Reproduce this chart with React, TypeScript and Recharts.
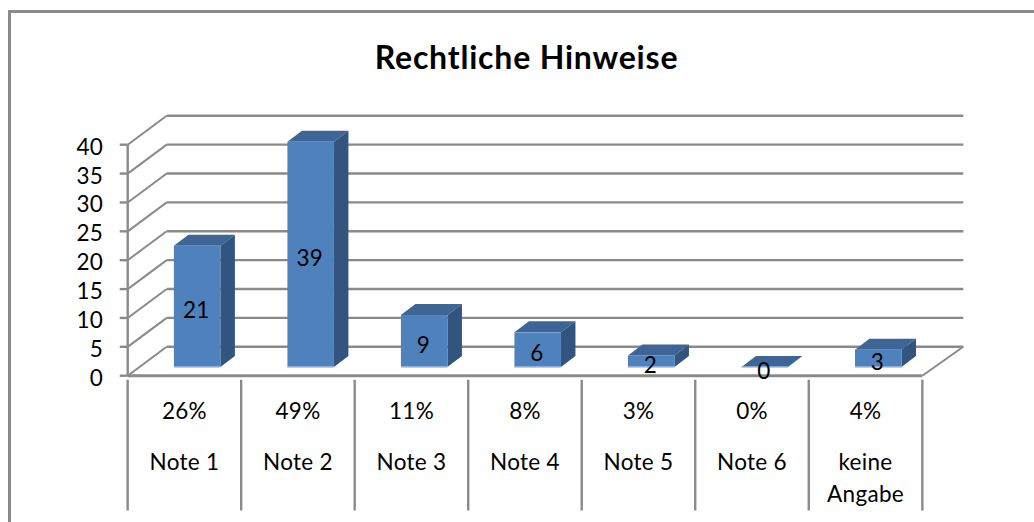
import { BarChart, Bar, XAxis, YAxis, CartesianGrid, LabelList } from 'recharts';

const categories = ['Note 1', 'Note 2', 'Note 3', 'Note 4', 'Note 5', 'Note 6', 'keine Angabe'];
const percents = ['26%', '49%', '11%', '8%', '3%', '0%', '4%'];
const counts = [21, 39, 9, 6, 2, 0, 3];
const yTicks = [0, 5, 10, 15, 20, 25, 30, 35, 40];

const rows = categories.map((name, i) => ({ name, count: counts[i] }));

const FONT = 'Lato, Carlito, "Noto Sans", sans-serif';
const GREY = '#8a8a8a';
const BAND = 113.6;
const TEXT_SIZE = 22.5;
// fake 3D: floor and back wall offset, bar offset from the axis plane
const WALL_X = 39;
const WALL_Y = 29;
const BAR_DX = 12.2;
const BAR_DY = 8.7;
const DEPTH_X = 14.5;
const DEPTH_Y = 11;

function WallLine(props: any) {
  const { x1, x2, y1, index } = props;
  return (
    <g key={`wall-${index}`} stroke={GREY} strokeWidth={2.4} fill="none">
      <line x1={x1} y1={y1} x2={x1 + WALL_X} y2={y1 - WALL_Y} strokeWidth={2} />
      <line x1={x1 + WALL_X} y1={y1 - WALL_Y} x2={x2 + WALL_X + 2} y2={y1 - WALL_Y} />
      {y1 > 370 && <line x1={x2} y1={y1} x2={x2 + WALL_X + 2} y2={y1 - WALL_Y} strokeWidth={2} />}
    </g>
  );
}

function Box3D(props: any) {
  const { x, y, width, height } = props;
  const left = x + BAR_DX;
  const top = y - BAR_DY;
  const right = left + width;
  const bottom = top + height;
  return (
    <g>
      <polygon
        points={`${left},${top} ${left + DEPTH_X},${top - DEPTH_Y} ${right + DEPTH_X},${top - DEPTH_Y} ${right},${top}`}
        fill="#3d6595"
      />
      {height > 0 && (
        <>
          <polygon
            points={`${right},${top} ${right + DEPTH_X},${top - DEPTH_Y} ${right + DEPTH_X},${bottom - DEPTH_Y} ${right},${bottom}`}
            fill="#33547f"
          />
          <rect x={left} y={top} width={width} height={height} fill="#4f81bd" />
        </>
      )}
      <line x1={left} y1={bottom} x2={right} y2={bottom} stroke="#a3bcdc" strokeWidth={1.5} />
    </g>
  );
}

function ValueLabel(props: any) {
  const { x, y, width, height, value } = props;
  return (
    <text
      x={x + BAR_DX + width / 2 - 1}
      y={y - BAR_DY + height / 2 + 3}
      textAnchor="middle"
      dominantBaseline="central"
      fontSize={TEXT_SIZE}
      fontFamily={FONT}
      fill="#000"
    >
      {value}
    </text>
  );
}

function CategoryTick(props: any) {
  const { x, y, index, payload } = props;
  const words = String(payload.value).split(' ');
  const twoLines = words[0] === 'keine';
  const top = y - 4;
  return (
    <g fontFamily={FONT} fontSize={TEXT_SIZE} fill="#000" textAnchor="middle" letterSpacing={0.3}>
      <line x1={x - BAND / 2} y1={top} x2={x - BAND / 2} y2={510.5} stroke={GREY} strokeWidth={2.4} />
      {index === categories.length - 1 && (
        <line x1={x + BAND / 2} y1={top} x2={x + BAND / 2} y2={510.5} stroke={GREY} strokeWidth={2.4} />
      )}
      <text x={x} y={419}>{percents[index]}</text>
      {twoLines ? (
        <>
          <text x={x} y={470}>{words[0]}</text>
          <text x={x} y={501.5}>{words[1]}</text>
        </>
      ) : (
        <text x={x} y={470}>{payload.value}</text>
      )}
    </g>
  );
}

export default function App() {
  return (
    <div style={{ position: 'absolute', left: 0, top: 0, width: 1034, height: 522, background: '#fff', overflow: 'hidden' }}>
      <div
        style={{
          position: 'absolute',
          left: 8,
          top: 10,
          width: 1040,
          height: 520,
          borderLeft: `3px solid ${GREY}`,
          borderTop: `3px solid ${GREY}`,
        }}
      />
      <div
        style={{
          position: 'absolute',
          left: 0,
          width: 1053,
          top: 37,
          textAlign: 'center',
          fontFamily: FONT,
          fontWeight: 700,
          fontSize: 32,
          letterSpacing: 0.8,
          lineHeight: '40px',
          color: '#000',
        }}
      >
        Rechtliche Hinweise
      </div>
      <div style={{ position: 'absolute', left: 0, top: 0 }}>
        <BarChart
          width={1034}
          height={522}
          data={rows}
          barSize={46.5}
          margin={{ top: 144.7, right: 111.7, bottom: 0, left: 67.7 }}
        >
          <CartesianGrid vertical={false} horizontal={WallLine} />
          <XAxis
            dataKey="name"
            height={146.3}
            interval={0}
            tickLine={false}
            axisLine={{ stroke: GREY, strokeWidth: 3 }}
            tick={CategoryTick}
          />
          <YAxis
            width={60}
            domain={[0, 40]}
            ticks={yTicks}
            interval={0}
            tickSize={8}
            tickMargin={17}
            axisLine={{ stroke: GREY, strokeWidth: 2.4 }}
            tickLine={{ stroke: GREY, strokeWidth: 2.4 }}
            tick={{ fontSize: TEXT_SIZE, fontFamily: FONT, fill: '#000', dy: 2 }}
          />
          <Bar dataKey="count" shape={Box3D} isAnimationActive={false}>
            <LabelList dataKey="count" content={ValueLabel} />
          </Bar>
        </BarChart>
      </div>
    </div>
  );
}
